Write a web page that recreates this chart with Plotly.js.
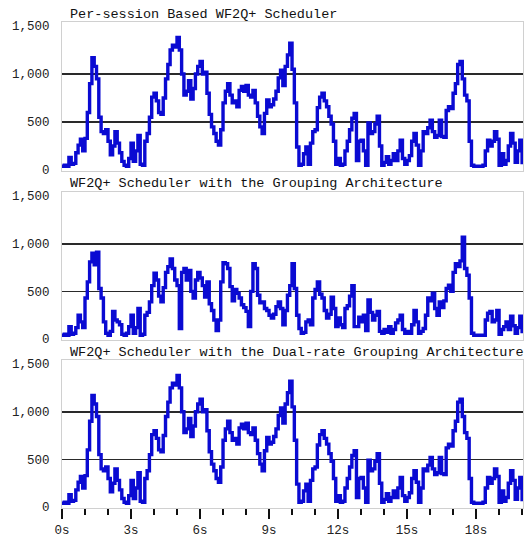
<!DOCTYPE html>
<html>
<head>
<meta charset="utf-8">
<script src="https://cdn.plot.ly/plotly-3.0.1.min.js"></script>
<style>html,body{margin:0;padding:0;background:#fff;}#chart{width:526px;height:537px;}</style>
</head>
<body>
<div id="chart"></div>
<script>
// Panel titles
const panelTitles = [
  "Per-session Based WF2Q+ Scheduler",
  "WF2Q+ Scheduler with the Grouping Architecture",
  "WF2Q+ Scheduler with the Dual-rate Grouping Architecture"
];
// Samples every 0.1 s from 0 s to 20 s
const startTime = 0;
const sampleStep = 0.1;

const perSessionValues = [
  40, 50, 40, 130, 60, 70, 180, 260, 320, 200,
  330, 600, 900, 1170, 1080, 950, 550, 400, 380, 420,
  300, 160, 250, 400, 280, 180, 90, 50, 40, 120,
  280, 90, 200, 360, 60, 50, 300, 380, 550, 760,
  800, 720, 600, 580, 750, 950, 1100, 1250, 1300, 1280,
  1380, 1250, 1000, 780, 820, 930, 740, 850, 1000, 1080,
  1130, 1000, 1020, 800, 580, 450, 380, 300, 260, 420,
  700, 820, 900, 780, 700, 720, 660, 830, 870, 820,
  880, 780, 760, 830, 700, 560, 450, 380, 590, 730,
  660, 680, 740, 820, 960, 1040, 880, 1080, 1200, 1320,
  1050, 700, 240, 50, 60, 170, 240, 60, 280, 400,
  420, 650, 760, 800, 720, 660, 560, 480, 300, 60,
  120, 50, 60, 200, 300, 420, 540, 590, 100, 300,
  310, 200, 50, 490, 380, 400, 480, 560, 250, 50,
  80, 140, 60, 100, 170, 100, 200, 310, 120, 60,
  100, 150, 300, 380, 260, 50, 200, 400, 380, 440,
  520, 400, 340, 360, 520, 350, 340, 620, 660, 640,
  800, 900, 1100, 1130, 950, 780, 720, 300, 50, 40,
  40, 40, 40, 50, 200, 310, 250, 300, 400, 320,
  50, 170, 60, 100, 250, 380, 280, 80, 200, 310,
  60
];

const groupingValues = [
  40, 50, 40, 130, 50, 60, 120, 250, 180, 120,
  430, 600, 810, 900, 780, 910, 530, 430, 180, 60,
  40, 80, 290, 200, 180, 150, 50, 40, 60, 130,
  250, 60, 120, 320, 40, 50, 250, 280, 390, 560,
  690, 620, 450, 390, 540, 700, 760, 840, 740, 620,
  560, 110, 700, 740, 620, 720, 500, 430, 620, 700,
  640, 560, 440, 600, 370, 300, 200, 90, 200, 600,
  800, 790, 740, 550, 400, 520, 480, 430, 360, 330,
  290, 130, 500, 790, 740, 460, 380, 390, 320, 300,
  250, 220, 260, 340, 390, 320, 150, 300, 460, 560,
  790, 530, 250, 110, 60, 70, 180, 200, 150, 430,
  520, 600, 470, 430, 300, 220, 260, 440, 320, 130,
  220, 150, 120, 320, 350, 450, 560, 130, 130, 230,
  180, 250, 90, 410, 280, 200, 250, 290, 80, 60,
  100, 70, 130, 60, 100, 170, 200, 250, 100, 60,
  80, 60, 150, 300, 180, 60, 80, 110, 250, 430,
  400, 480, 320, 250, 390, 330, 400, 530, 565, 500,
  700, 790, 760, 820, 1070, 740, 670, 430, 60, 40,
  40, 40, 40, 40, 200, 270, 290, 180, 200, 300,
  50, 100, 130, 180, 100, 240, 140, 60, 120, 240,
  60
];

const dualRateValues = [
  40, 50, 40, 130, 60, 70, 180, 260, 320, 200,
  330, 600, 900, 1170, 1080, 950, 550, 400, 380, 420,
  300, 160, 250, 400, 280, 180, 90, 50, 40, 120,
  280, 90, 200, 360, 60, 50, 300, 380, 550, 760,
  800, 720, 600, 580, 750, 950, 1100, 1250, 1300, 1280,
  1380, 1250, 1000, 780, 820, 930, 740, 850, 1000, 1080,
  1130, 1000, 1020, 800, 580, 450, 380, 300, 260, 420,
  700, 820, 900, 780, 700, 720, 660, 830, 870, 820,
  880, 780, 760, 830, 700, 560, 450, 380, 590, 730,
  660, 680, 740, 820, 960, 1040, 880, 1080, 1200, 1320,
  1050, 700, 240, 50, 60, 170, 240, 60, 280, 400,
  420, 650, 760, 800, 720, 660, 560, 480, 300, 60,
  120, 50, 60, 200, 300, 420, 540, 590, 100, 300,
  310, 200, 50, 490, 380, 400, 480, 560, 250, 50,
  80, 140, 60, 100, 170, 100, 200, 310, 120, 60,
  100, 150, 300, 380, 260, 50, 200, 400, 380, 440,
  520, 400, 340, 360, 520, 350, 340, 620, 660, 640,
  800, 900, 1100, 1130, 950, 780, 720, 300, 50, 40,
  40, 40, 40, 50, 200, 310, 250, 300, 400, 320,
  50, 170, 60, 100, 250, 380, 280, 80, 200, 310,
  60
];

const yTickVals = [0, 500, 1000, 1500];
const yTickText = ["0", "500", "1,000", "1,500"];
const gridVals = [500, 1000];

const lineStyle = {color: '#0a0ad2', width: 3.4, shape: 'hv'};
const series = [perSessionValues, groupingValues, dualRateValues];
const traces = series.map((vals, i) => ({
  type: 'scatter', mode: 'lines',
  x0: startTime, dx: sampleStep, y: vals,
  xaxis: i === 0 ? 'x' : 'x' + (i + 1),
  yaxis: i === 0 ? 'y' : 'y' + (i + 1),
  line: lineStyle, hoverinfo: 'skip', showlegend: false
}));

const mono = 'Liberation Mono, Courier New, monospace';
function yAxis(domain) {
  return {
    domain: domain, range: [-10, 1542], fixedrange: true,
    tickmode: 'array', tickvals: yTickVals, ticktext: yTickText,
    ticks: '', ticklabelstandoff: 9,
    tickfont: {family: mono, size: 12.5, color: '#222'},
    showgrid: false, zeroline: false,
    showline: true, mirror: true, linecolor: '#d0d0d0', linewidth: 1,
    minor: {tickmode: 'array', tickvals: gridVals, showgrid: true, gridcolor: '#2a2a2a', gridwidth: 1.7, ticks: ''}
  };
}
function xAxis(anchor, showTicks) {
  const ax = {
    anchor: anchor, range: [0, 20.04], fixedrange: true,
    showgrid: false, zeroline: false,
    showline: true, mirror: true, linecolor: '#d0d0d0', linewidth: 1,
    matches: anchor === 'y' ? undefined : 'x'
  };
  if (showTicks) {
    Object.assign(ax, {
      tickmode: 'linear', tick0: 0, dtick: 3, ticksuffix: 's',
      ticks: 'outside', ticklen: 10, tickwidth: 2, tickcolor: '#111',
      tickfont: {family: mono, size: 12.5, color: '#222'},
      minor: {tickmode: 'linear', tick0: 0, dtick: 1, ticks: 'outside', ticklen: 6, tickwidth: 2, tickcolor: '#111', showgrid: false}
    });
  } else {
    Object.assign(ax, {showticklabels: false, ticks: ''});
  }
  return ax;
}

const titleY = [14, 183, 352];
const H = 537, mT = 22, mB = 29;
const plotH = H - mT - mB;
const annotations = panelTitles.map((t, i) => ({
  text: t, xref: 'paper', yref: 'paper', showarrow: false,
  x: 6 / 461, y: (H - mB - titleY[i]) / plotH,
  xanchor: 'left', yanchor: 'middle',
  font: {family: mono, size: 13.5, color: '#111'}
}));

const layout = {
  width: 526, height: 537,
  margin: {l: 62, r: 3, t: mT, b: mB},
  paper_bgcolor: '#fff', plot_bgcolor: '#fff',
  showlegend: false,
  xaxis: xAxis('y', false),
  xaxis2: xAxis('y2', false),
  xaxis3: xAxis('y3', true),
  yaxis: yAxis([0.6934, 1.0]),
  yaxis2: yAxis([0.3457, 0.650]),
  yaxis3: yAxis([0, 0.3045]),
  annotations: annotations
};

Plotly.newPlot('chart', traces, layout, {staticPlot: true, displayModeBar: false});
</script>
</body>
</html>
